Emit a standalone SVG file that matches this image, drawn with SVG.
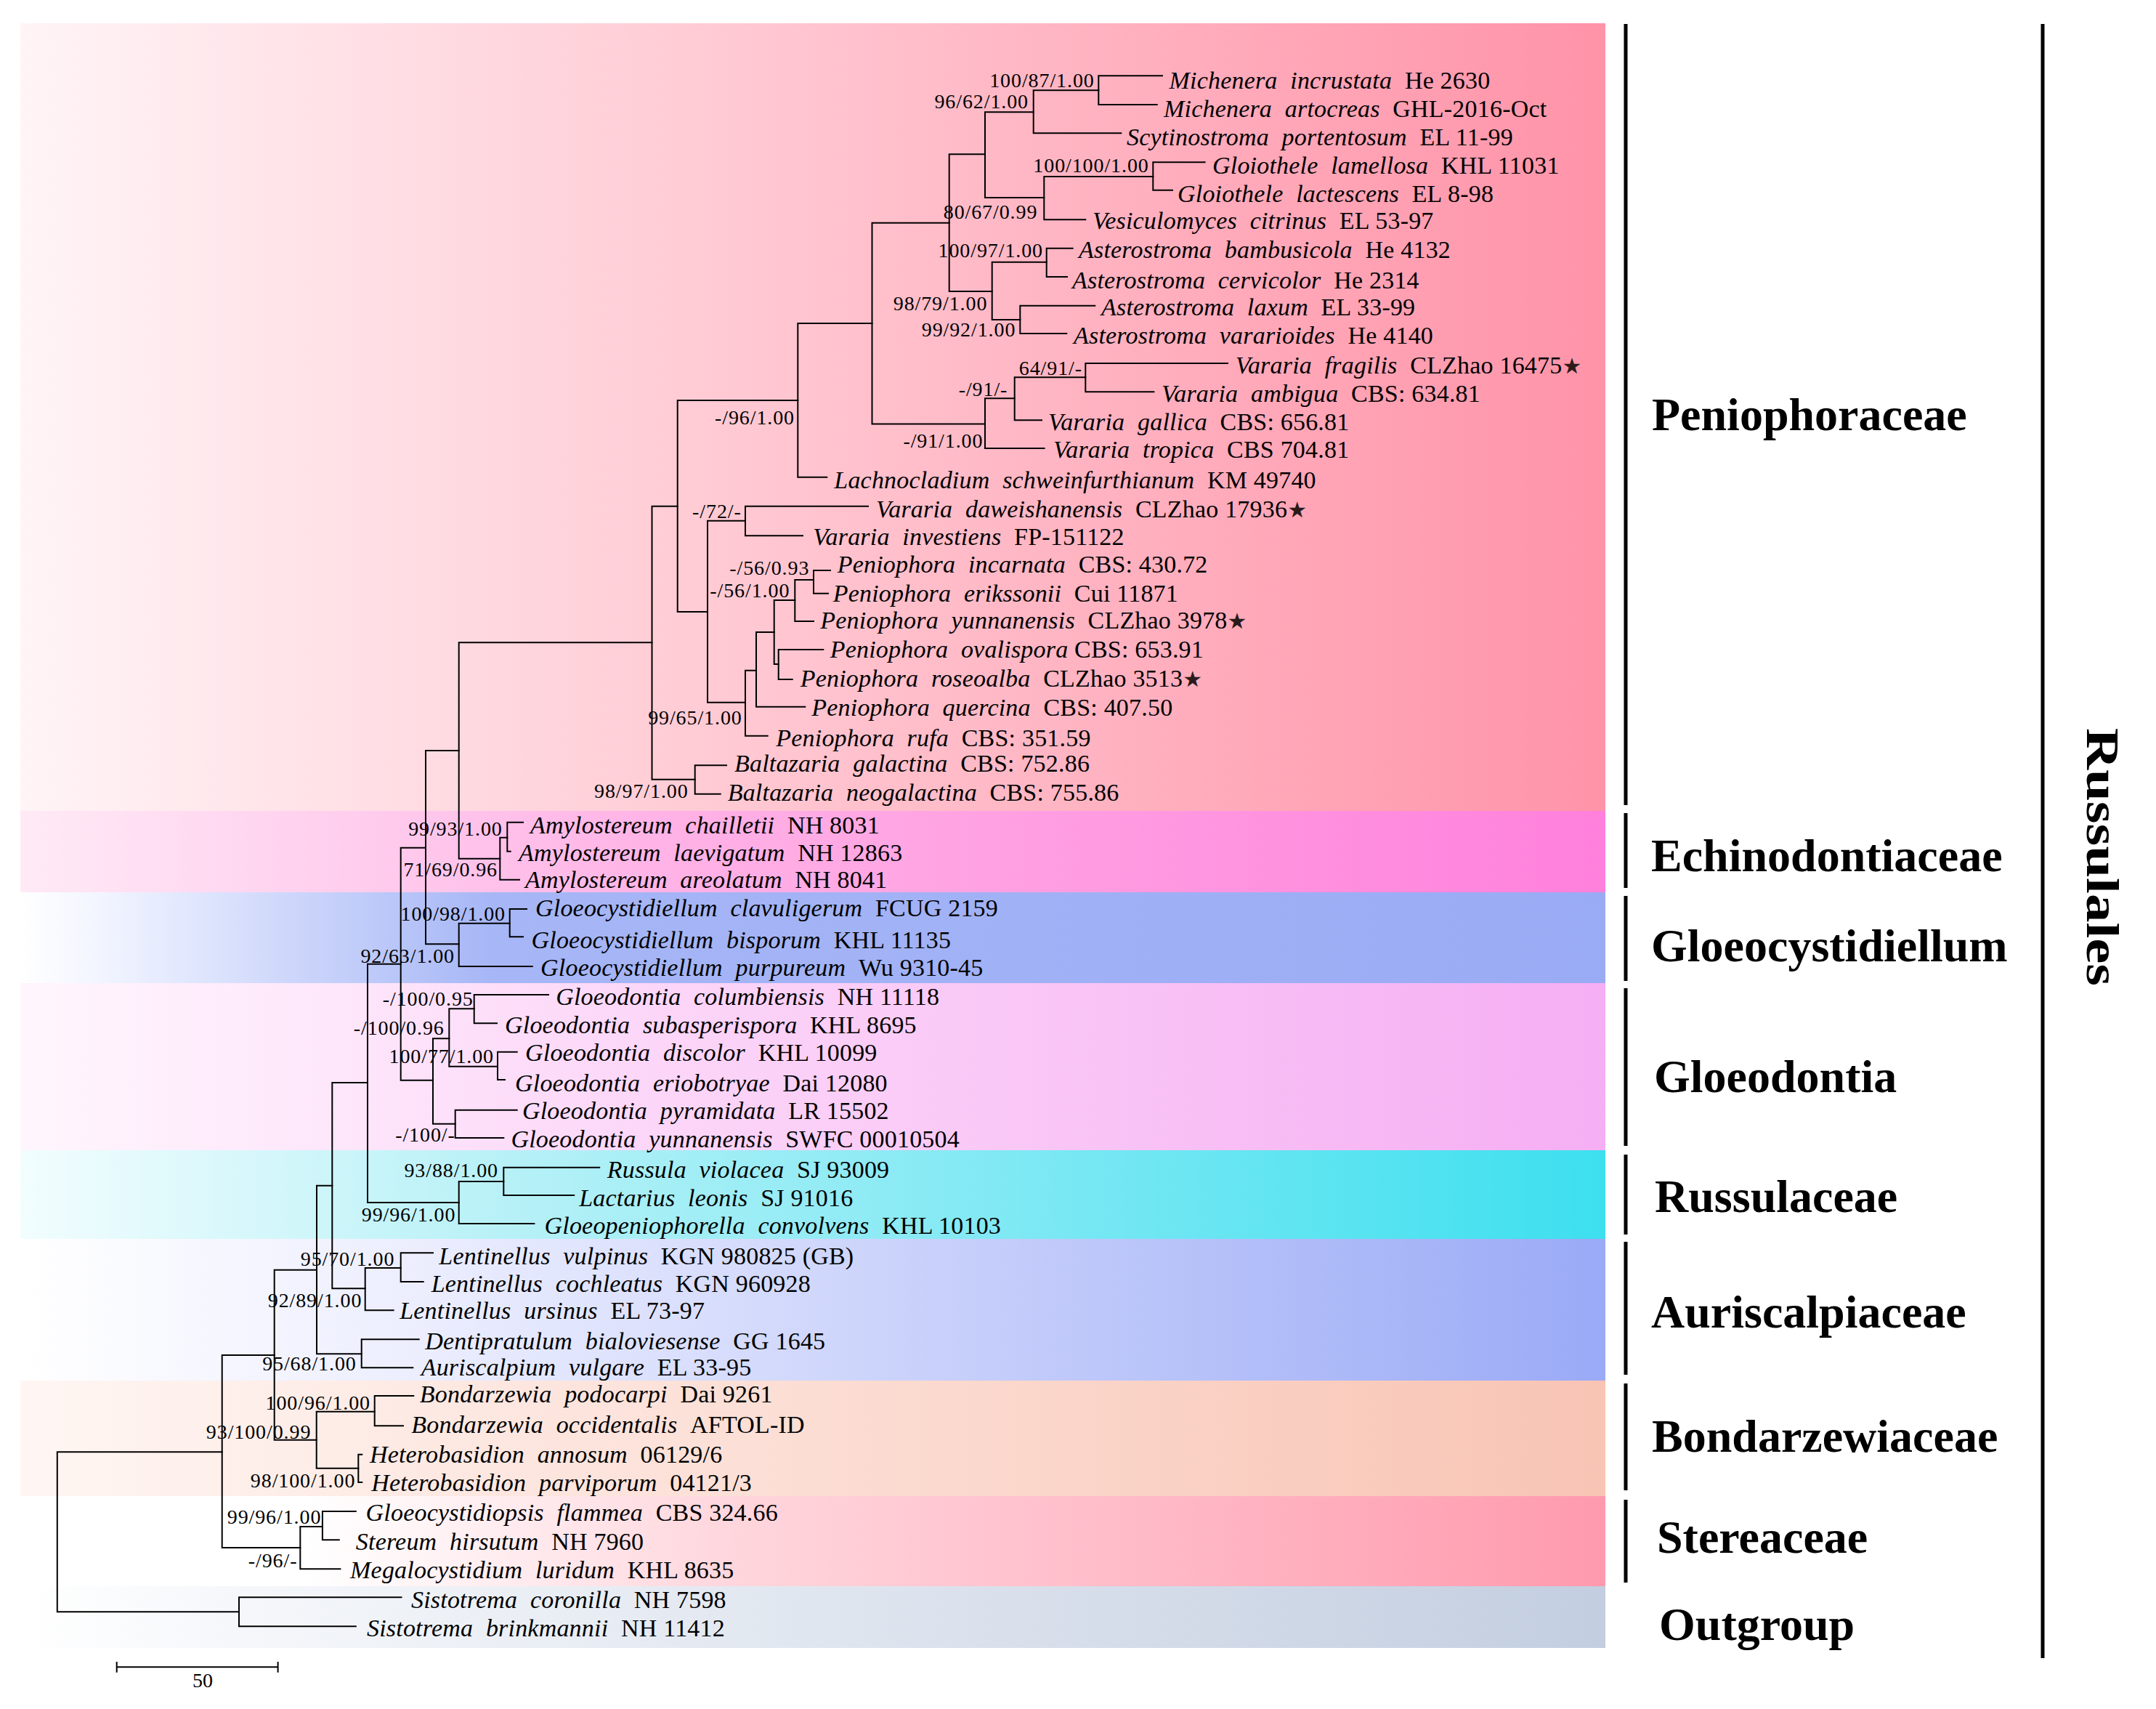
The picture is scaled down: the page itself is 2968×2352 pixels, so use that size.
<svg xmlns="http://www.w3.org/2000/svg" width="2968" height="2352" viewBox="0 0 2968 2352">
<defs>
<style>
.br{stroke:#000;stroke-width:2;fill:none;stroke-linecap:square}
.bk{stroke:#000;stroke-width:5;fill:none}
.tx{font-family:"Liberation Serif","Times New Roman",serif;font-size:34px;letter-spacing:0.2px;fill:#000}
.i{font-style:italic;word-spacing:9px}
.st{font-family:"DejaVu Sans",sans-serif;font-size:30px;fill:#2a1a1a}
.sl{font-family:"Liberation Serif","Times New Roman",serif;font-size:28px;letter-spacing:0.9px;text-anchor:end;fill:#000}
.fam{font-family:"Liberation Serif","Times New Roman",serif;font-weight:bold;font-size:64px;fill:#000}
</style>
<linearGradient id="gPen" gradientUnits="userSpaceOnUse" x1="28" y1="0" x2="2210" y2="0"><stop offset="0" stop-color="#fff4f6"/><stop offset="0.5" stop-color="#ffc4cf"/><stop offset="1" stop-color="#ff93a8"/></linearGradient>
<linearGradient id="gEch" gradientUnits="userSpaceOnUse" x1="28" y1="0" x2="2210" y2="0"><stop offset="0" stop-color="#ffeaf6"/><stop offset="0.4" stop-color="#ffb3e6"/><stop offset="1" stop-color="#ff80dc"/></linearGradient>
<linearGradient id="gGlc" gradientUnits="userSpaceOnUse" x1="28" y1="0" x2="2210" y2="0"><stop offset="0" stop-color="#ffffff"/><stop offset="0.05" stop-color="#f2f5ff"/><stop offset="0.3" stop-color="#a6b6f6"/><stop offset="1" stop-color="#9aabf5"/></linearGradient>
<linearGradient id="gGld" gradientUnits="userSpaceOnUse" x1="28" y1="0" x2="2210" y2="0"><stop offset="0" stop-color="#fff6fd"/><stop offset="0.4" stop-color="#fcd6f8"/><stop offset="1" stop-color="#f5aef3"/></linearGradient>
<linearGradient id="gRus" gradientUnits="userSpaceOnUse" x1="28" y1="0" x2="2210" y2="0"><stop offset="0" stop-color="#f2fdfe"/><stop offset="0.3" stop-color="#b8f1f7"/><stop offset="1" stop-color="#3ddfef"/></linearGradient>
<linearGradient id="gAur" gradientUnits="userSpaceOnUse" x1="28" y1="0" x2="2210" y2="0"><stop offset="0" stop-color="#ffffff"/><stop offset="0.25" stop-color="#eceefe"/><stop offset="1" stop-color="#9aaaf6"/></linearGradient>
<linearGradient id="gBon" gradientUnits="userSpaceOnUse" x1="28" y1="0" x2="2210" y2="0"><stop offset="0" stop-color="#fff6f3"/><stop offset="1" stop-color="#f8c4b4"/></linearGradient>
<linearGradient id="gSte" gradientUnits="userSpaceOnUse" x1="28" y1="0" x2="2210" y2="0"><stop offset="0" stop-color="#ffffff"/><stop offset="0.18" stop-color="#ffffff"/><stop offset="0.45" stop-color="#ffd6dd"/><stop offset="1" stop-color="#ff9aae"/></linearGradient>
<linearGradient id="gOut" gradientUnits="userSpaceOnUse" x1="28" y1="0" x2="2210" y2="0"><stop offset="0" stop-color="#ffffff"/><stop offset="0.12" stop-color="#f6f8fb"/><stop offset="1" stop-color="#c3cee0"/></linearGradient>
</defs>
<rect x="0" y="0" width="2968" height="2352" fill="#ffffff"/>
<g id="bands">
<rect x="28" y="32" width="2182" height="1084" fill="url(#gPen)"/>
<rect x="28" y="1116" width="2182" height="112" fill="url(#gEch)"/>
<rect x="28" y="1228" width="2182" height="125" fill="url(#gGlc)"/>
<rect x="28" y="1353" width="2182" height="230" fill="url(#gGld)"/>
<rect x="28" y="1583" width="2182" height="122" fill="url(#gRus)"/>
<rect x="28" y="1705" width="2182" height="195" fill="url(#gAur)"/>
<rect x="28" y="1900" width="2182" height="159" fill="url(#gBon)"/>
<rect x="28" y="2059" width="2182" height="124" fill="url(#gSte)"/>
<rect x="28" y="2183" width="2182" height="85" fill="url(#gOut)"/>
</g>
<g id="connectors" class="br">
<path d="M1512.3,104.3V144M1512.3,104.3H1600M1512.3,144H1592.7"/>
<path d="M1422.7,124.3V183.3M1422.7,124.3H1512.3M1422.7,183.3H1543.3"/>
<path d="M1356,154.3V272M1356,154.3H1422.7M1356,272H1437.3"/>
<path d="M1437.3,243V302.3M1437.3,243H1587.3M1437.3,302.3H1494.3"/>
<path d="M1587.3,223.3V261.7M1587.3,223.3H1658.6M1587.3,261.7H1614"/>
<path d="M1306.7,212.3V401M1306.7,212.3H1356M1306.7,401H1365.7"/>
<path d="M1365.7,360.7V440M1365.7,360.7H1440.7M1365.7,440H1404.3"/>
<path d="M1440.7,341.7V381M1440.7,341.7H1476.7M1440.7,381H1469"/>
<path d="M1404.3,420.7V459M1404.3,420.7H1507.3M1404.3,459H1468.3"/>
<path d="M1200.5,306.7V583.6M1200.5,306.7H1306.7M1200.5,583.6H1356"/>
<path d="M1356,548.3V617M1356,548.3H1396.7M1356,617H1437.6"/>
<path d="M1396.7,519.3V578.3M1396.7,519.3H1494.3M1396.7,578.3H1434"/>
<path d="M1494.3,500V539.3M1494.3,500H1690M1494.3,539.3H1588.4"/>
<path d="M1098.3,445V656.7M1098.3,445H1200.5M1098.3,656.7H1138.3"/>
<path d="M932.7,551V842M932.7,551H1098.3M932.7,842H974"/>
<path d="M974,716.7V966.7M974,716.7H1026M974,966.7H1026"/>
<path d="M1026,696.7V737.3M1026,696.7H1195M1026,737.3H1105"/>
<path d="M1026,922.7V1012.7M1026,922.7H1041M1026,1012.7H1056.7"/>
<path d="M1041,870V972.7M1041,870H1065.7M1041,972.7H1108.3"/>
<path d="M1065.7,826V914M1065.7,826H1094.3M1065.7,914H1071.7"/>
<path d="M1094.3,798V855M1094.3,798H1120M1094.3,855H1120"/>
<path d="M1120,785V816.7M1120,785H1143M1120,816.7H1140"/>
<path d="M1071.7,894V935M1071.7,894H1133.3M1071.7,935H1090.7"/>
<path d="M897.5,696.7V1072.7M897.5,696.7H932.7M897.5,1072.7H956.7"/>
<path d="M956.7,1053.3V1092.7M956.7,1053.3H1000M956.7,1092.7H991.7"/>
<path d="M631.7,884.3V1181.7M631.7,884.3H897.5M631.7,1181.7H688.3"/>
<path d="M688.3,1152.7V1210.7M688.3,1152.7H698.3M688.3,1210.7H715"/>
<path d="M698.3,1131.7V1171.7M698.3,1131.7H720M698.3,1171.7H702.7"/>
<path d="M586,1033V1299.3M586,1033H631.7M586,1299.3H631.7"/>
<path d="M631.7,1270.7V1330M631.7,1270.7H701.7M631.7,1330H732.7"/>
<path d="M701.7,1251V1289.3M701.7,1251H725M701.7,1289.3H720"/>
<path d="M551.7,1166.7V1486.7M551.7,1166.7H586M551.7,1486.7H596"/>
<path d="M596,1429.3V1546.7M596,1429.3H618.3M596,1546.7H626.7"/>
<path d="M618.3,1388.3V1467.7M618.3,1388.3H652.7M618.3,1467.7H685"/>
<path d="M652.7,1369V1408.3M652.7,1369H755M652.7,1408.3H684"/>
<path d="M685,1447.7V1486M685,1447.7H711.7M685,1486H695"/>
<path d="M626.7,1527.7V1566M626.7,1527.7H711.7M626.7,1566H693.3"/>
<path d="M506,1326.7V1655M506,1326.7H551.7M506,1655H631.7"/>
<path d="M631.7,1626V1684M631.7,1626H693.3M631.7,1684H735.4"/>
<path d="M693.3,1606.7V1645M693.3,1606.7H825.2M693.3,1645H790.2"/>
<path d="M457.3,1490V1773.3M457.3,1490H506M457.3,1773.3H502.7"/>
<path d="M502.7,1745V1803.3M502.7,1745H551.7M502.7,1803.3H541.7"/>
<path d="M551.7,1724.3V1764M551.7,1724.3H596M551.7,1764H582.7"/>
<path d="M436,1631.7V1863.3M436,1631.7H457.3M436,1863.3H497.7"/>
<path d="M497.7,1843.3V1882.3M497.7,1843.3H576.7M497.7,1882.3H568.3"/>
<path d="M377.7,1747.7V1981.7M377.7,1747.7H436M377.7,1981.7H435.7"/>
<path d="M435.7,1942.7V2020.7M435.7,1942.7H515.7M435.7,2020.7H493.3"/>
<path d="M515.7,1921V1962.3M515.7,1921H569.3M515.7,1962.3H555"/>
<path d="M493.3,2001.7V2040M493.3,2001.7H498.3M493.3,2040H498.3"/>
<path d="M305.7,1865V2130M305.7,1865H377.7M305.7,2130H413.3"/>
<path d="M413.3,2101V2159.3M413.3,2101H443.9M413.3,2159.3H468.4"/>
<path d="M443.9,2080V2119.3M443.9,2080H489.8M443.9,2119.3H466.8"/>
<path d="M78.8,1998.3V2218.3M78.8,1998.3H305.7M78.8,2218.3H329"/>
<path d="M329,2198.3V2238.3M329,2198.3H552.5M329,2238.3H489.8"/>
</g>
<g id="taxa" class="tx">
<g id="t01"><text x="1609.5" y="121.7"><tspan class="i">Michenera incrustata </tspan>He 2630</text></g>
<g id="t02"><text x="1602" y="161"><tspan class="i">Michenera artocreas </tspan>GHL-2016-Oct</text></g>
<g id="t03"><text x="1551" y="200"><tspan class="i">Scytinostroma portentosum </tspan>EL 11-99</text></g>
<g id="t04"><text x="1669" y="239"><tspan class="i">Gloiothele lamellosa </tspan>KHL 11031</text></g>
<g id="t05"><text x="1621" y="278"><tspan class="i">Gloiothele lactescens </tspan>EL 8-98</text></g>
<g id="t06"><text x="1504" y="315"><tspan class="i">Vesiculomyces citrinus </tspan>EL 53-97</text></g>
<g id="t07"><text x="1485" y="355"><tspan class="i">Asterostroma bambusicola </tspan>He 4132</text></g>
<g id="t08"><text x="1476" y="397"><tspan class="i">Asterostroma cervicolor </tspan>He 2314</text></g>
<g id="t09"><text x="1516" y="434"><tspan class="i">Asterostroma laxum </tspan>EL 33-99</text></g>
<g id="t10"><text x="1478" y="473"><tspan class="i">Asterostroma vararioides </tspan>He 4140</text></g>
<g id="t11"><text x="1700.7" y="514"><tspan class="i">Vararia fragilis </tspan>CLZhao 16475<tspan class="st">★</tspan></text></g>
<g id="t12"><text x="1599" y="553"><tspan class="i">Vararia ambigua </tspan>CBS: 634.81</text></g>
<g id="t13"><text x="1443" y="592"><tspan class="i">Vararia gallica </tspan>CBS: 656.81</text></g>
<g id="t14"><text x="1450" y="630"><tspan class="i">Vararia tropica </tspan>CBS 704.81</text></g>
<g id="t15"><text x="1148.3" y="671.7"><tspan class="i">Lachnocladium schweinfurthianum </tspan>KM 49740</text></g>
<g id="t16"><text x="1206" y="712"><tspan class="i">Vararia daweishanensis </tspan>CLZhao 17936<tspan class="st">★</tspan></text></g>
<g id="t17"><text x="1119.3" y="750"><tspan class="i">Vararia investiens </tspan>FP-151122</text></g>
<g id="t18"><text x="1152.7" y="788"><tspan class="i">Peniophora incarnata </tspan>CBS: 430.72</text></g>
<g id="t19"><text x="1146.7" y="828.3"><tspan class="i">Peniophora erikssonii </tspan>Cui 11871</text></g>
<g id="t20"><text x="1129.3" y="865"><tspan class="i">Peniophora yunnanensis </tspan>CLZhao 3978<tspan class="st">★</tspan></text></g>
<g id="t21"><text x="1142.7" y="905"><tspan class="i">Peniophora ovalispora</tspan> CBS: 653.91</text></g>
<g id="t22"><text x="1101.7" y="945"><tspan class="i">Peniophora roseoalba </tspan>CLZhao 3513<tspan class="st">★</tspan></text></g>
<g id="t23"><text x="1117.3" y="985"><tspan class="i">Peniophora quercina </tspan>CBS: 407.50</text></g>
<g id="t24"><text x="1068.3" y="1026.7"><tspan class="i">Peniophora rufa </tspan>CBS: 351.59</text></g>
<g id="t25"><text x="1011" y="1062"><tspan class="i">Baltazaria galactina </tspan>CBS: 752.86</text></g>
<g id="t26"><text x="1001.7" y="1101.7"><tspan class="i">Baltazaria neogalactina </tspan>CBS: 755.86</text></g>
<g id="t27"><text x="730" y="1146.7"><tspan class="i">Amylostereum chailletii </tspan>NH 8031</text></g>
<g id="t28"><text x="714" y="1185"><tspan class="i">Amylostereum laevigatum </tspan>NH 12863</text></g>
<g id="t29"><text x="723" y="1221.7"><tspan class="i">Amylostereum areolatum </tspan>NH 8041</text></g>
<g id="t30"><text x="737" y="1260.7"><tspan class="i">Gloeocystidiellum clavuligerum </tspan>FCUG 2159</text></g>
<g id="t31"><text x="731.5" y="1305"><tspan class="i">Gloeocystidiellum bisporum </tspan>KHL 11135</text></g>
<g id="t32"><text x="744.1" y="1343.3"><tspan class="i">Gloeocystidiellum purpureum </tspan>Wu 9310-45</text></g>
<g id="t33"><text x="765.2" y="1383.3"><tspan class="i">Gloeodontia columbiensis </tspan>NH 11118</text></g>
<g id="t34"><text x="695" y="1421.7"><tspan class="i">Gloeodontia subasperispora </tspan>KHL 8695</text></g>
<g id="t35"><text x="723" y="1460"><tspan class="i">Gloeodontia discolor </tspan>KHL 10099</text></g>
<g id="t36"><text x="709" y="1501.7"><tspan class="i">Gloeodontia eriobotryae </tspan>Dai 12080</text></g>
<g id="t37"><text x="718.9" y="1540"><tspan class="i">Gloeodontia pyramidata </tspan>LR 15502</text></g>
<g id="t38"><text x="703.4" y="1579"><tspan class="i">Gloeodontia yunnanensis </tspan>SWFC 00010504</text></g>
<g id="t39"><text x="835.8" y="1621"><tspan class="i">Russula violacea </tspan>SJ 93009</text></g>
<g id="t40"><text x="797.2" y="1660"><tspan class="i">Lactarius leonis </tspan>SJ 91016</text></g>
<g id="t41"><text x="749.5" y="1697.5"><tspan class="i">Gloeopeniophorella convolvens </tspan>KHL 10103</text></g>
<g id="t42"><text x="604.3" y="1740"><tspan class="i">Lentinellus vulpinus </tspan>KGN 980825 (GB)</text></g>
<g id="t43"><text x="593.7" y="1778.3"><tspan class="i">Lentinellus cochleatus </tspan>KGN 960928</text></g>
<g id="t44"><text x="550.2" y="1815"><tspan class="i">Lentinellus ursinus </tspan>EL 73-97</text></g>
<g id="t45"><text x="585.3" y="1856.7"><tspan class="i">Dentipratulum bialoviesense </tspan>GG 1645</text></g>
<g id="t46"><text x="579.7" y="1893.3"><tspan class="i">Auriscalpium vulgare </tspan>EL 33-95</text></g>
<g id="t47"><text x="577.8" y="1930"><tspan class="i">Bondarzewia podocarpi </tspan>Dai 9261</text></g>
<g id="t48"><text x="566.3" y="1971.7"><tspan class="i">Bondarzewia occidentalis </tspan>AFTOL-ID</text></g>
<g id="t49"><text x="508.9" y="2013.3"><tspan class="i">Heterobasidion annosum </tspan>06129/6</text></g>
<g id="t50"><text x="511.2" y="2051.7"><tspan class="i">Heterobasidion parviporum </tspan>04121/3</text></g>
<g id="t51"><text x="503.6" y="2093"><tspan class="i">Gloeocystidiopsis flammea </tspan>CBS 324.66</text></g>
<g id="t52"><text x="489.8" y="2133.3"><tspan class="i">Stereum hirsutum </tspan>NH 7960</text></g>
<g id="t53"><text x="482.1" y="2171.7"><tspan class="i">Megalocystidium luridum </tspan>KHL 8635</text></g>
<g id="t54"><text x="566" y="2213.3"><tspan class="i">Sistotrema coronilla </tspan>NH 7598</text></g>
<g id="t55"><text x="505" y="2251.7"><tspan class="i">Sistotrema brinkmannii </tspan>NH 11412</text></g>
</g>
<g id="support" class="sl">
<text x="1506.7" y="120">100/87/1.00</text>
<text x="1416" y="149.3">96/62/1.00</text>
<text x="1581.7" y="236.7">100/100/1.00</text>
<text x="1428.3" y="300.7">80/67/0.99</text>
<text x="1436" y="354.3">100/97/1.00</text>
<text x="1359.3" y="426.7">98/79/1.00</text>
<text x="1398.3" y="463.3">99/92/1.00</text>
<text x="1490" y="515.7">64/91/-</text>
<text x="1387.3" y="545">-/91/-</text>
<text x="1353.4" y="616">-/91/1.00</text>
<text x="1094" y="584">-/96/1.00</text>
<text x="1020.7" y="713.3">-/72/-</text>
<text x="1114.3" y="790.7">-/56/0.93</text>
<text x="1087.3" y="821.7">-/56/1.00</text>
<text x="1021.7" y="997.3">99/65/1.00</text>
<text x="947.6" y="1098">98/97/1.00</text>
<text x="691.7" y="1150">99/93/1.00</text>
<text x="685" y="1206">71/69/0.96</text>
<text x="696" y="1266.7">100/98/1.00</text>
<text x="626" y="1325">92/63/1.00</text>
<text x="651.7" y="1384">-/100/0.95</text>
<text x="611.7" y="1424">-/100/0.96</text>
<text x="680" y="1462.7">100/77/1.00</text>
<text x="626.7" y="1571">-/100/-</text>
<text x="686" y="1620">93/88/1.00</text>
<text x="627.3" y="1680.7">99/96/1.00</text>
<text x="543.3" y="1741.7">95/70/1.00</text>
<text x="498.3" y="1799">92/89/1.00</text>
<text x="490.7" y="1886">95/68/1.00</text>
<text x="510" y="1940">100/96/1.00</text>
<text x="428.3" y="1980">93/100/0.99</text>
<text x="489.3" y="2047.3">98/100/1.00</text>
<text x="442.3" y="2096.7">99/96/1.00</text>
<text x="409.4" y="2156.7">-/96/-</text>
</g>
<g id="families">
<g id="f-pen"><path class="bk" d="M2238,33V1108"/><text class="fam" x="2274" y="592">Peniophoraceae</text></g>
<g id="f-ech"><path class="bk" d="M2238,1119V1222"/><text class="fam" x="2273" y="1199">Echinodontiaceae</text></g>
<g id="f-glc"><path class="bk" d="M2238,1233V1350"/><text class="fam" x="2273" y="1323">Gloeocystidiellum</text></g>
<g id="f-gld"><path class="bk" d="M2238,1360V1577"/><text class="fam" x="2277" y="1503">Gloeodontia</text></g>
<g id="f-rus"><path class="bk" d="M2238,1589V1699"/><text class="fam" x="2278" y="1668">Russulaceae</text></g>
<g id="f-aur"><path class="bk" d="M2238,1709V1892"/><text class="fam" x="2273" y="1827">Auriscalpiaceae</text></g>
<g id="f-bon"><path class="bk" d="M2238,1904V2051"/><text class="fam" x="2274" y="1998">Bondarzewiaceae</text></g>
<g id="f-ste"><path class="bk" d="M2238,2064V2178"/><text class="fam" x="2281" y="2137">Stereaceae</text></g>
<g id="f-out"><text class="fam" x="2284" y="2257">Outgroup</text></g>
<g id="order"><path class="bk" d="M2812,33V2282"/><text class="fam" font-size="80" transform="translate(2873,1002) rotate(90)" x="0" y="0" textLength="355" lengthAdjust="spacingAndGlyphs">Russulales</text></g>
</g>
<g id="scale">
<path d="M160.7,2294.3H382.6M160.7,2287V2301.7M382.6,2287V2301.7" stroke="#000" stroke-width="2" fill="none"/>
<text x="279" y="2322" font-family="Liberation Serif, serif" font-size="28" text-anchor="middle">50</text>
</g>
</svg>
